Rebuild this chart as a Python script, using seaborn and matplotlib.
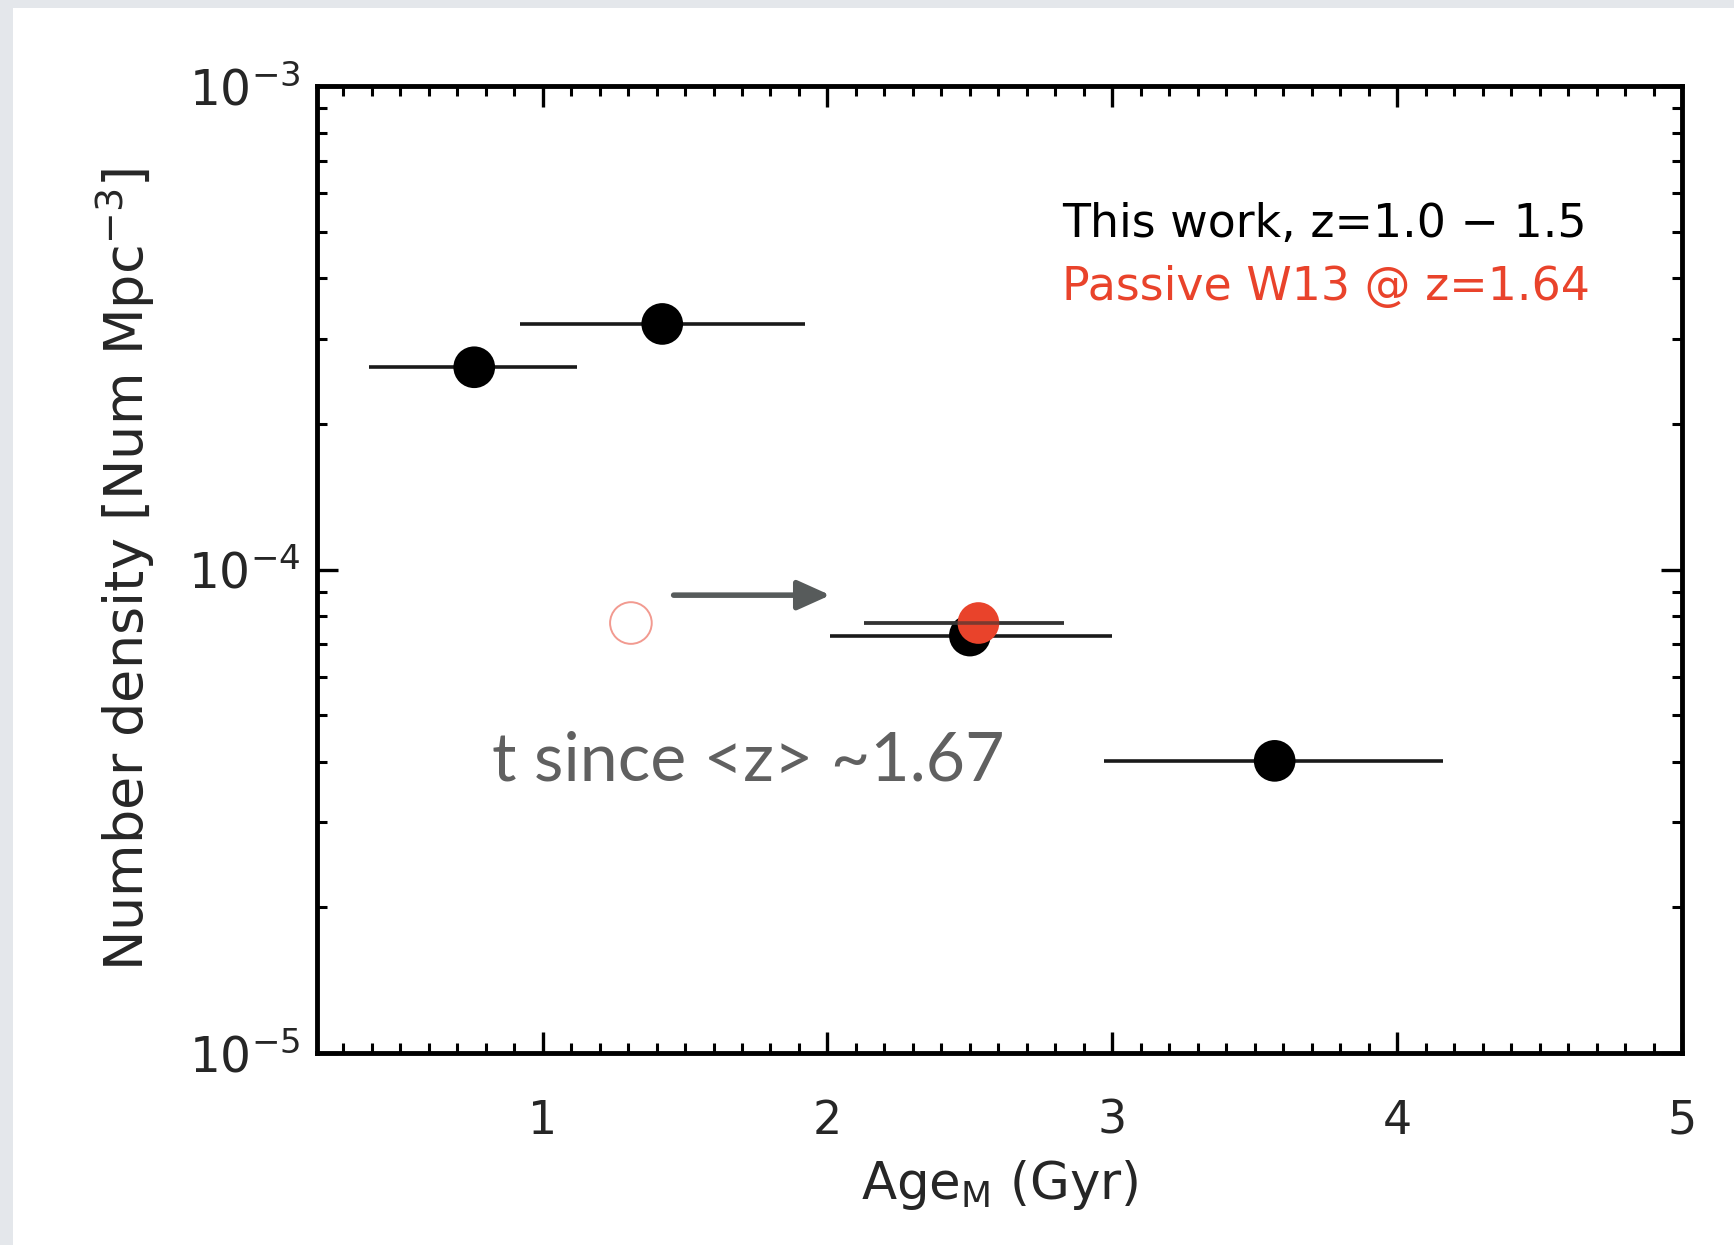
import numpy as np
import pandas as pd
import matplotlib
matplotlib.use("Agg")
import matplotlib.pyplot as plt
import matplotlib.ticker as mticker
from matplotlib.patches import Rectangle
import seaborn as sns

# ---- data ----
age_this = [0.76, 1.42, 2.50, 3.57]
age_lo_this = [0.39, 0.92, 2.01, 2.97]
age_hi_this = [1.12, 1.92, 3.00, 4.16]
dens_this = [2.62e-4, 3.22e-4, 7.3e-5, 4.02e-5]

age_w13 = [2.53]
age_lo_w13 = [2.13]
age_hi_w13 = [2.83]
dens_w13 = [7.75e-5]

age_open = [1.31]
dens_open = [7.75e-5]

arrow_x = [1.46, 2.01]
arrow_y = [8.85e-5, 8.85e-5]

legend_labels = ["This work, z=1.0 \u2212 1.5", "Passive W13 @ z=1.64"]
annot_text = "t since <z> ~1.67"

RED = "#e9432b"

sns.set_style("ticks")
plt.rcParams['font.family'] = ['DejaVu Sans']

fig = plt.figure(figsize=(17.34, 12.45), dpi=100)
fig.patch.set_facecolor("#e4e7eb")
fig.patches.append(Rectangle((13 / 1734, 0), 1, 1 - 8 / 1245, transform=fig.transFigure,
                             facecolor="white", edgecolor="none", zorder=-10))
ax = fig.add_axes([317 / 1734, 1 - 1053 / 1245, (1682 - 317) / 1734, (1053 - 86) / 1245])
ax.set_facecolor("white")

df_this = pd.DataFrame({"age": age_this, "dens": dens_this})
df_w13 = pd.DataFrame({"age": age_w13, "dens": dens_w13})
df_open = pd.DataFrame({"age": age_open, "dens": dens_open})

# error bars
ax.hlines(dens_this, age_lo_this, age_hi_this, color="#1a1a1a", lw=2.6, zorder=2)
sns.scatterplot(data=df_this, x="age", y="dens", ax=ax, color="black", s=900,
                edgecolor="none", zorder=3, legend=False)
ax.hlines(dens_w13, age_lo_w13, age_hi_w13, color="#333333", lw=2.6, zorder=4)
sns.scatterplot(data=df_w13, x="age", y="dens", ax=ax, color=RED, s=900,
                edgecolor="none", zorder=5, legend=False)
ax.hlines(dens_w13, age_lo_w13, age_hi_w13, color="#333333", lw=2.6, alpha=0.6, zorder=6)
sns.scatterplot(data=df_open, x="age", y="dens", ax=ax, facecolor="none",
                edgecolor="#f29a90", linewidth=1.4, s=900, zorder=5, legend=False)

ax.annotate("", xy=(arrow_x[1], arrow_y[1]), xytext=(arrow_x[0], arrow_y[0]),
            arrowprops=dict(arrowstyle="-|>,head_length=2.0,head_width=0.9",
                            color="#575b5b", lw=4, shrinkA=0, shrinkB=0))

ax.text((492 - 317) / 1365, 1 - (761 - 86) / 967, annot_text, transform=ax.transAxes,
        fontsize=49, color="#606060", fontfamily="Lato", fontweight="normal",
        ha="left", va="center")

ax.text((1062 - 317) / 1365, 1 - (224 - 86) / 967, legend_labels[0], transform=ax.transAxes,
        fontsize=33, color="black", ha="left", va="center")
ax.text((1062 - 317) / 1365, 1 - (288 - 86) / 967, legend_labels[1], transform=ax.transAxes,
        fontsize=33, color=RED, ha="left", va="center")

ax.set_yscale("log")
ax.set_xlim(0.208, 5.0)
ax.set_ylim(1e-5, 1e-3)
ax.xaxis.set_major_locator(mticker.MultipleLocator(1))
ax.xaxis.set_minor_locator(mticker.MultipleLocator(0.1))
ax.xaxis.set_major_formatter(mticker.FormatStrFormatter("%d"))
ax.yaxis.set_major_locator(mticker.LogLocator(base=10, numticks=10))
ax.yaxis.set_minor_locator(mticker.LogLocator(base=10, subs=np.arange(2, 10), numticks=20))
ax.yaxis.set_minor_formatter(mticker.NullFormatter())

for s in ax.spines.values():
    s.set_linewidth(3.5)
    s.set_color("black")
    s.set_visible(True)

ax.tick_params(axis="both", which="major", direction="in", top=True, right=True,
               length=15, width=2.4, labelsize=33, color="black")
ax.tick_params(axis="both", which="minor", direction="in", top=True, right=True,
               length=7, width=2.2, color="black")
ax.tick_params(axis="x", which="major", pad=33)
ax.tick_params(axis="y", which="major", pad=12, labelsize=35)

ax.set_xlabel(r"Age$_{\mathrm{M}}$ (Gyr)", fontsize=37, labelpad=10)
ax.set_ylabel(r"Number density [Num Mpc$^{-3}$]", fontsize=39, labelpad=22)

fig.savefig("out.png", dpi=100, facecolor=fig.get_facecolor())
